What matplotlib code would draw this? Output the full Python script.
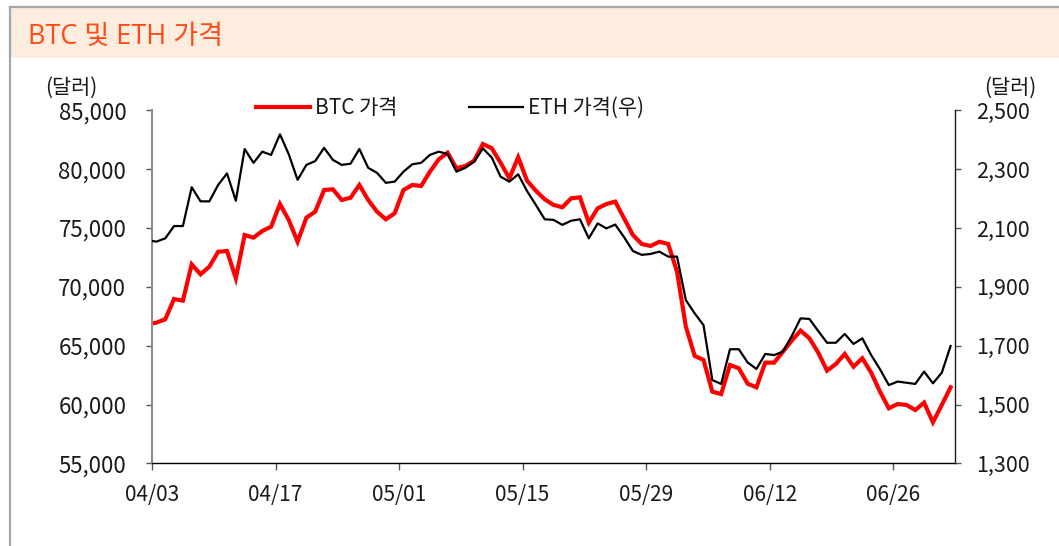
import matplotlib
matplotlib.use("Agg")
import matplotlib.pyplot as plt
from matplotlib.patches import Rectangle
from matplotlib.lines import Line2D
import pandas as pd

plt.rcParams['font.family'] = ['Noto Sans CJK KR', 'DejaVu Sans']

# ---- data (04/02 .. 07/02, daily; first value only partly visible) ----
start_date = "2026-04-02"
btc = [66840, 66960, 67250, 68970, 68830, 71920, 71070, 71720, 72990, 73050, 70730,
       74410, 74190, 74750, 75120, 77050, 75690, 73840, 75890, 76400, 78240,
       78300, 77390, 77580, 78670, 77390, 76400, 75750, 76260, 78240, 78670,
       78580, 79800, 80850, 81410, 80090, 80280, 80730, 82150, 81790, 80560,
       79240, 81020, 79030, 78180, 77450, 76970, 76770, 77530, 77620, 75460,
       76680, 77050, 77250, 75830, 74410, 73650, 73480, 73840, 73650, 71290,
       66620, 64130, 63790, 61090, 60890, 63360, 63080, 61770, 61460, 63560,
       63560, 64490, 65430, 66280, 65630, 64410, 62880, 63440, 64300, 63220,
       63930, 62710, 61090, 59680, 60040, 59960, 59530, 60160, 58490, 59960,
       61460]
eth = [2059, 2054, 2065, 2107, 2107, 2239, 2191, 2191, 2247, 2286, 2193,
       2369, 2322, 2360, 2349, 2419, 2351, 2264, 2315, 2328, 2373,
       2332, 2315, 2319, 2369, 2305, 2288, 2254, 2258, 2292, 2317,
       2322, 2349, 2360, 2352, 2292, 2305, 2326, 2371, 2340, 2275,
       2258, 2283, 2226, 2179, 2130, 2128, 2111, 2125, 2130, 2065,
       2116, 2099, 2112, 2069, 2022, 2009, 2012, 2020, 2003, 2003,
       1855, 1810, 1770, 1583, 1570, 1688, 1688, 1643, 1621, 1672,
       1668, 1680, 1733, 1793, 1791, 1750, 1710, 1710, 1740, 1706,
       1725, 1668, 1620, 1566, 1578, 1574, 1570, 1612, 1572, 1608,
       1699]
tick_dates = ["2026-04-03", "2026-04-17", "2026-05-01", "2026-05-15",
              "2026-05-29", "2026-06-12", "2026-06-26"]
x_range = ["2026-04-03", "2026-07-03"]
left_ticks = [55000, 60000, 65000, 70000, 75000, 80000, 85000]
right_ticks = [1300, 1500, 1700, 1900, 2100, 2300, 2500]
title = "BTC 및 ETH 가격"
unit = "(달러)"
labels = ["BTC 가격", "ETH 가격(우)"]

# dates plotted at the middle of each day
dates = pd.date_range(start_date, periods=len(btc), freq="D") + pd.Timedelta(hours=12)

W, H = 1059, 546
fig = plt.figure(figsize=(W / 100, H / 100), dpi=100)

# header band and frame lines
fig.add_artist(Rectangle((10 / W, 1 - 58 / H), 1 - 10 / W, 51 / H,
                         transform=fig.transFigure, facecolor="#FDEDDE",
                         edgecolor="none", zorder=0))
fig.add_artist(Line2D([9.5 / W, 1], [1 - 7 / H, 1 - 7 / H], transform=fig.transFigure,
                      color="#A6A6A6", lw=1.6))
fig.add_artist(Line2D([9.5 / W, 9.5 / W], [0, 1 - 7 / H], transform=fig.transFigure,
                      color="#A6A6A6", lw=1.6))
fig.text(28 / W, 1 - 44.5 / H, title, color="#FF4A17", fontsize=19.5,
         family=['Open Sans', 'Noto Sans CJK KR'], ha="left", va="baseline")

ax = fig.add_axes([152 / W, 1 - 463.3 / H, (955 - 152) / W, (463.3 - 110.5) / H])
ax2 = ax.twinx()

ax.plot(dates, btc, color="#FF0000", lw=3.0, solid_joinstyle="miter", label=labels[0])
ax2.plot(dates, eth, color="#000000", lw=1.6, label=labels[1])

xr = pd.to_datetime(x_range)
ax.set_xlim(xr[0], xr[1])
ax.set_ylim(55000, 85000)
ax2.set_ylim(1300, 2500)
ax.set_yticks(left_ticks)
ax.set_yticklabels([f"{v:,}" for v in left_ticks])
ax2.set_yticks(right_ticks)
ax2.set_yticklabels([f"{v:,}" for v in right_ticks])
td = pd.to_datetime(tick_dates)
ax.set_xticks(td)
ax.set_xticklabels([d.strftime("%m/%d") for d in td])

for a in (ax, ax2):
    a.spines["top"].set_visible(False)
ax.spines["right"].set_visible(False)
ax2.spines["left"].set_visible(False)
ax2.spines["bottom"].set_visible(False)
ax.spines["left"].set_color("#8C8C8C")
ax.spines["left"].set_linewidth(1.5)
ax.spines["bottom"].set_color("#000000")
ax.spines["bottom"].set_linewidth(1.0)
ax2.spines["right"].set_color("#1A1A1A")
ax2.spines["right"].set_linewidth(1.0)

ax.tick_params(axis="y", direction="out", length=4.5, width=1, color="#555555",
               labelsize=16, labelcolor="#1A1A1A", pad=14)
ax.tick_params(axis="x", direction="out", length=5, width=1, color="#555555",
               labelsize=15, labelcolor="#1A1A1A", pad=10)
ax2.tick_params(axis="y", direction="out", length=4, width=1, color="#555555",
                labelsize=15.5, labelcolor="#1A1A1A", pad=11)

fig.text(71 / W, 1 - 88 / H, unit, fontsize=15, ha="center", va="center", color="#1A1A1A")
fig.text(1010 / W, 1 - 88 / H, unit, fontsize=15, ha="center", va="center", color="#1A1A1A")

handles = [Line2D([], [], color="#FF0000", lw=3.0), Line2D([], [], color="#000000", lw=1.6)]
fig.legend(handles, labels, loc="center left", bbox_to_anchor=(256 / W, 1 - 108 / H),
           ncol=2, frameon=False, fontsize=15, handlelength=2.6, handletextpad=0.25,
           columnspacing=3.4, borderpad=0, borderaxespad=0, labelcolor="#1A1A1A")

fig.savefig("out.png", dpi=100)
